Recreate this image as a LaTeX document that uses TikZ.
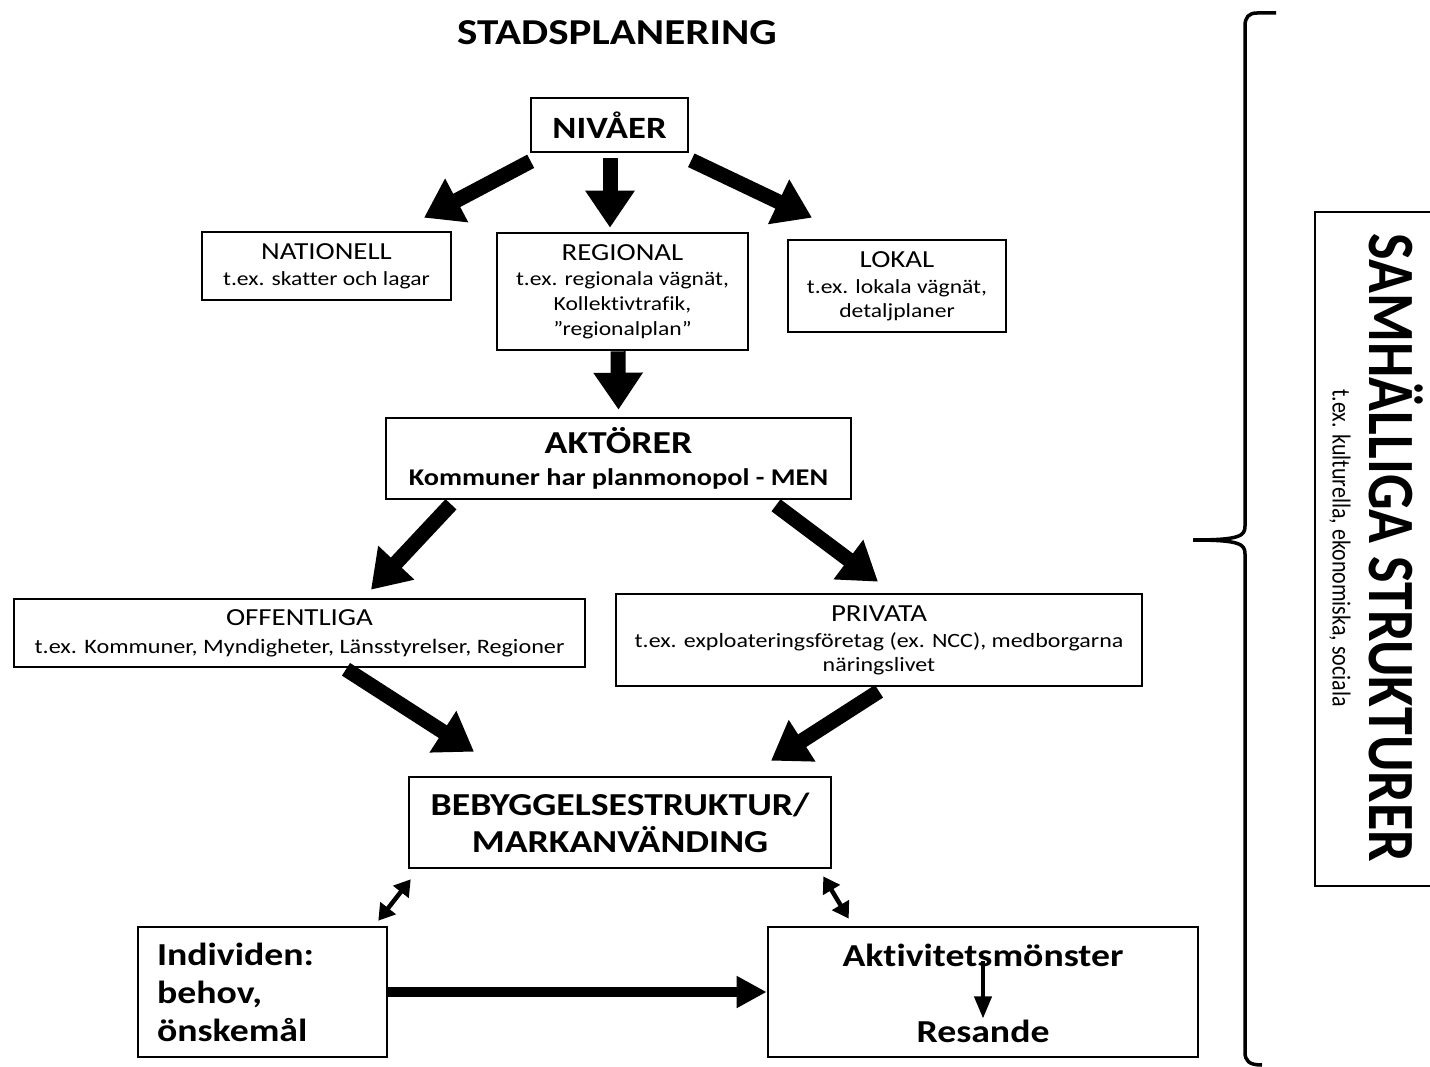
\documentclass[tikz,border=0pt]{standalone}
\usepackage{fontspec}
\setmainfont{Carlito}[FakeStretch=1.18,Ligatures=NoCommon]
\newfontfamily\plainfont{Carlito}[Ligatures=NoCommon]
\usetikzlibrary{arrows.meta}
\begin{document}
\begin{tikzpicture}[x=1pt,y=-1pt,
  box/.style={draw,line width=2.6pt,rectangle,inner sep=0pt,align=center},
  bigarrow/.style={line width=15pt,-{Triangle[width=47pt,length=37pt]}},
  midarrow/.style={line width=10pt,-{Triangle[width=30pt,length=30pt]}},
  dblarrow/.style={line width=4.5pt,{Triangle[width=19pt,length=16pt]}-{Triangle[width=19pt,length=16pt]}},
  thinarrow/.style={line width=4pt,-{Triangle[width=17pt,length=22pt]}}]
\useasboundingbox (0,0) rectangle (1430,1067);
\fill[white] (0,0) rectangle (1430,1067);

\node[font=\bfseries\fontsize{36.5}{40}\selectfont] (title) at (617,33) {STADSPLANERING};

\node[box, minimum width=157pt, minimum height=54pt, font=\bfseries\fontsize{31}{36}\selectfont] (niv) at (609.5,125) {NIVÅER};

\node[box, minimum width=249pt, minimum height=68pt, font=\fontsize{20}{26}\selectfont] (nat) at (326.5,266)
  {{\fontsize{24.5}{26}\selectfont NATIONELL}\\t.ex. skatter och lagar};
\node[box, minimum width=251pt, minimum height=117pt, font=\fontsize{20}{25}\selectfont] (reg) at (622.5,291.5)
  {{\fontsize{24.5}{26}\selectfont REGIONAL}\\t.ex. regionala vägnät,\\Kollektivtrafik,\\”regionalplan”};
\node[box, minimum width=218pt, minimum height=92pt, font=\fontsize{20}{24}\selectfont] (lok) at (897,286)
  {{\fontsize{24.5}{26}\selectfont LOKAL}\\[2pt]t.ex. lokala vägnät,\\detaljplaner};

\node[box, minimum width=465pt, minimum height=81pt, font=\bfseries\fontsize{24}{32}\selectfont] (akt) at (618.5,458.5)
  {{\fontsize{32}{32}\selectfont AKTÖRER}\\Kommuner har planmonopol - MEN};

\node[box, minimum width=571pt, minimum height=68pt, font=\fontsize{20.5}{28}\selectfont] (off) at (299.5,633)
  {{\fontsize{24.5}{26}\selectfont OFFENTLIGA}\\t.ex. Kommuner, Myndigheter, Länsstyrelser, Regioner};
\node[box, minimum width=526pt, minimum height=92pt, font=\fontsize{20.3}{24}\selectfont] (pri) at (879,640)
  {{\fontsize{24.5}{26}\selectfont PRIVATA}\\[2pt]t.ex. exploateringsföretag (ex. NCC), medborgarna\\näringslivet};

\node[box, minimum width=422pt, minimum height=91pt, font=\bfseries\fontsize{32}{37}\selectfont] (beb) at (620,822.5)
  {BEBYGGELSESTRUKTUR/\\MARKANVÄNDING};

\node[box, text width=211pt, inner xsep=19pt, minimum height=130pt, align=left, font=\bfseries\fontsize{32}{38}\selectfont] (ind) at (262.5,992)
  {Individen:\\behov,\\önskemål};

\node[box, minimum width=430pt, minimum height=130pt] (act) at (983,992) {};
\node[font=\bfseries\fontsize{32}{34}\selectfont, inner sep=0pt] (aktm) at (983,955) {Aktivitetsmönster};
\node[font=\bfseries\fontsize{32}{34}\selectfont, inner sep=0pt] (res) at (983,1031) {Resande};

% arrows
\draw[bigarrow] ([shift={(1,8)}]niv.south west) -- ([shift={(97.5,-13)}]nat.north);
\draw[bigarrow] ([shift={(0.5,5)}]niv.south) -- ([shift={(-12.5,-4)}]reg.north);
\draw[bigarrow] ([shift={(2,7)}]niv.south east) -- ([shift={(-85,-21)}]lok.north);
\draw[bigarrow] ([shift={(-4.5,0)}]reg.south) -- ([shift={(0,-7)}]akt.north);
\draw[bigarrow] ([shift={(-167.5,4)}]akt.south) -- ([shift={(71.5,-8)}]off.north);
\draw[bigarrow] ([shift={(157.5,5)}]akt.south) -- ([shift={(-1,-11)}]pri.north);
\draw[bigarrow] ([shift={(46.5,1)}]off.south) -- ([shift={(-146,-24)}]beb.north);
\draw[bigarrow] ([shift={(0,4)}]pri.south) -- ([shift={(151,-15)}]beb.north);
\draw[dblarrow] ([shift={(3,10)}]beb.south west) -- ([shift={(-10,-5)}]ind.north east);
\draw[dblarrow] ([shift={(-9,7)}]beb.south east) -- ([shift={(82,-7)}]act.north west);
\draw[midarrow] (ind.east) -- (act.west);
\draw[thinarrow] ([yshift=6pt]aktm.south) -- ([yshift=1pt]res.north);

% brace
\draw[line width=3.5pt] (1276,13) -- (1257,13) .. controls (1249,13) and (1245,17) .. (1245,26)
  -- (1245,526) .. controls (1245,536) and (1240,540) .. (1193,540)
  .. controls (1240,540) and (1245,544) .. (1245,554)
  -- (1245,1052) .. controls (1245,1061) and (1249,1065) .. (1262,1065);

% side box
\draw[line width=2.6pt] (1440,212) -- (1315,212) -- (1315,886) -- (1440,886);
\node[rotate=-90, inner sep=0pt] (sam) at (1396,548)
  {\scalebox{1}[1.18]{\plainfont\bfseries\fontsize{56}{60}\selectfont SAMHÄLLIGA STRUKTURER}};
\node[rotate=-90, inner sep=0pt] (samsub) at (1340,548)
  {\scalebox{1}[1.18]{\plainfont\fontsize{22}{26}\selectfont t.ex. kulturella, ekonomiska, sociala}};
\end{tikzpicture}
\end{document}
